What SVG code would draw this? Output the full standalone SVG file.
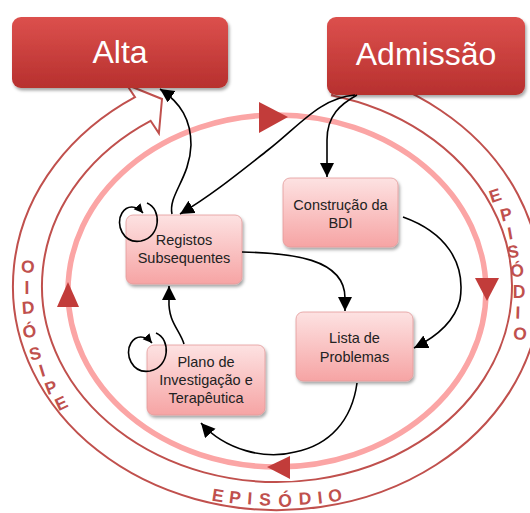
<svg xmlns="http://www.w3.org/2000/svg" width="530" height="513" viewBox="0 0 530 513">
  <defs>
    <linearGradient id="gRed" x1="0" y1="0" x2="0" y2="1">
      <stop offset="0" stop-color="#dc504d"/>
      <stop offset="1" stop-color="#b7302e"/>
    </linearGradient>
    <linearGradient id="gPink" x1="0" y1="0" x2="0" y2="1">
      <stop offset="0" stop-color="#fde2e2"/>
      <stop offset="1" stop-color="#f6a4a4"/>
    </linearGradient>
    <filter id="shadow" x="-10%" y="-10%" width="125%" height="135%">
      <feDropShadow dx="1.5" dy="2.5" stdDeviation="1.8" flood-color="#000" flood-opacity="0.35"/>
    </filter>
    <marker id="arrow" markerUnits="userSpaceOnUse" markerWidth="15" markerHeight="15" refX="14" refY="7" orient="auto">
      <path d="M0,0 L14,7 L0,14 z" fill="#000"/>
    </marker>
    <marker id="arrowSmall" markerUnits="userSpaceOnUse" markerWidth="10" markerHeight="10" refX="9" refY="4.5" orient="auto">
      <path d="M0,0 L9,4.5 L0,9 z" fill="#000"/>
    </marker>
    <style>
      .band { fill: none; stroke: #c0504d; stroke-width: 2; }
      .cycle { fill: none; stroke: #fba5a5; stroke-width: 5.5; }
      .tri { fill: #c23c3a; }
      .ep { font-family: "Liberation Sans", Arial, sans-serif; font-size: 17.5px; font-weight: bold; fill: #c0504d; text-anchor: middle; }
      .big rect { fill: url(#gRed); filter: url(#shadow); }
      .big text { font-family: "Liberation Sans", Arial, sans-serif; font-size: 32px; fill: #fff; text-anchor: middle; }
      .node rect { fill: url(#gPink); stroke: #e39a9a; stroke-width: 0.8; filter: url(#shadow); }
      .node text { font-family: "Liberation Sans", Arial, sans-serif; font-size: 14.5px; fill: #222; text-anchor: middle; }
      .conn path { fill: none; stroke: #000; stroke-width: 1.6; }
    </style>
  </defs>

  <rect width="530" height="513" fill="#fff"/>

  <!-- outer circular band ending in an arrowhead towards "Alta" -->
  <g id="episode-band">
    <path class="band" d="M338.8,68.3 A264,224 0 1 1 135,97.2 L126.7,84.7 L162,99 L158.9,133.3 L150.6,120.8 A235,196 0 1 0 332,95.5 Z"/>
    <!-- right side -->
    <g class="ep">
      <text transform="translate(495,195) rotate(-18)" y="6.5">E</text>
      <text transform="translate(506,214) rotate(-14)" y="6.5">P</text>
      <text transform="translate(510,233) rotate(-10)" y="6.5">I</text>
      <text transform="translate(513,251) rotate(-7)" y="6.5">S</text>
      <text transform="translate(517,268) rotate(-4)" y="8.5">Ó</text>
      <text transform="translate(519,291) rotate(0)" y="6.5">D</text>
      <text transform="translate(518,312) rotate(2)" y="6.5">I</text>
      <text transform="translate(520,333) rotate(5)" y="6.5">O</text>
    </g>
    <!-- left side -->
    <g class="ep">
      <text transform="translate(28,266) rotate(3)" y="6.5">O</text>
      <text transform="translate(27,287) rotate(0)" y="6.5">I</text>
      <text transform="translate(28,307) rotate(-4)" y="6.5">D</text>
      <text transform="translate(29,329) rotate(-8)" y="8.5">Ó</text>
      <text transform="translate(35,353) rotate(-13)" y="6.5">S</text>
      <text transform="translate(42,370) rotate(-17)" y="6.5">I</text>
      <text transform="translate(51,387) rotate(-21)" y="6.5">P</text>
      <text transform="translate(61,403) rotate(-25)" y="6.5">E</text>
    </g>
    <!-- bottom -->
    <g class="ep">
      <text transform="translate(218,495) rotate(9)" y="6.5">E</text>
      <text transform="translate(235,497) rotate(7)" y="6.5">P</text>
      <text transform="translate(250,498) rotate(4)" y="6.5">I</text>
      <text transform="translate(265,499) rotate(2)" y="6.5">S</text>
      <text transform="translate(285,498) rotate(0)" y="8.5">Ó</text>
      <text transform="translate(305,498) rotate(-3)" y="6.5">D</text>
      <text transform="translate(320,497) rotate(-6)" y="6.5">I</text>
      <text transform="translate(335,495) rotate(-9)" y="6.5">O</text>
    </g>
  </g>

  <!-- inner care cycle -->
  <g id="care-cycle">
    <ellipse class="cycle" cx="277" cy="291" rx="209" ry="176"/>
    <polygon class="tri" points="288,117 259,102 259,133"/>
    <polygon class="tri" points="475,278 499,278 487,301"/>
    <polygon class="tri" points="267,467 290,456 290,479"/>
    <polygon class="tri" points="68,282 57,307 79,307"/>
  </g>

  <g id="registos" class="node">
    <rect x="126" y="215" width="116" height="69" rx="7"/>
    <text x="184" y="245">Registos</text>
    <text x="184" y="263">Subsequentes</text>
  </g>
  <g id="construcao-bdi" class="node">
    <rect x="283" y="178" width="115" height="69" rx="7"/>
    <text x="340.5" y="209.5">Construção da</text>
    <text x="340.5" y="228">BDI</text>
  </g>
  <g id="lista-problemas" class="node">
    <rect x="296" y="312" width="117" height="69" rx="7"/>
    <text x="354.5" y="343">Lista de</text>
    <text x="354.5" y="361.5">Problemas</text>
  </g>
  <g id="plano" class="node">
    <rect x="147" y="345" width="118" height="70" rx="7"/>
    <text x="206" y="367">Plano de</text>
    <text x="206" y="385">Investigação e</text>
    <text x="206" y="403">Terapêutica</text>
  </g>

  <g id="alta" class="big">
    <rect x="12" y="17" width="216" height="71" rx="9"/>
    <text x="120" y="63">Alta</text>
  </g>
  <g id="admissao" class="big">
    <rect x="327" y="17" width="198" height="78" rx="9"/>
    <text x="426" y="65">Admissão</text>
  </g>

  <g id="connectors" class="conn">
    <path d="M357,95 C341,104 327,115 327,140 L327,177" marker-end="url(#arrow)"/>
    <path d="M355,95 C320,98 300,125 268,150 C240,172 212,195 180,214" marker-end="url(#arrow)"/>
    <path d="M172,214 C168,195 190,178 191,145 C191,120 181,103 160,89" marker-end="url(#arrow)"/>
    <path d="M242,252 C290,253 345,258 345,298 L345,311" marker-end="url(#arrow)"/>
    <path d="M403,217 C445,232 466,262 460,300 C455,320 440,335 414,348" marker-end="url(#arrow)"/>
    <path d="M357,383 C352,420 330,445 295,452 C265,460 225,450 201,423" marker-end="url(#arrow)"/>
    <path d="M184,344 C180,330 168,322 169,300 L169,286" marker-end="url(#arrow)"/>
    <path d="M147,203 C162,209 161,237 141,241 C123,244 115,224 122,213 C127,205 136,205 143,213" marker-end="url(#arrowSmall)"/>
    <path d="M156,333 C171,339 170,367 150,371 C132,374 124,354 131,343 C136,335 145,335 152,343" marker-end="url(#arrowSmall)"/>
  </g>
</svg>
